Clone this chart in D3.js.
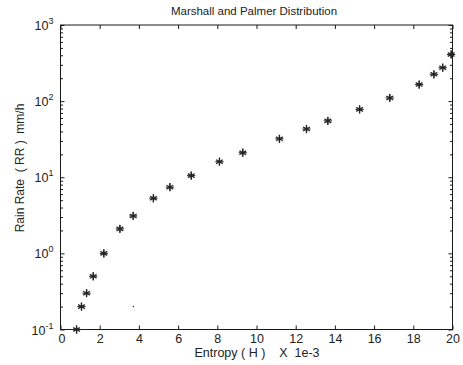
<!DOCTYPE html>
<html><head><meta charset="utf-8">
<script src="https://cdn.jsdelivr.net/npm/d3@7"></script>
<style>body{margin:0;background:#fff}svg{display:block}text{font-family:"Liberation Sans",Arial,sans-serif;fill:#222}</style>
</head><body>
<script>
const title = "Marshall and Palmer Distribution";
const xLabel = "Entropy ( H )    X  1e-3";
const yLabel = "Rain Rate  ( RR )  mm/h";
const entropy = [0.82, 1.07, 1.33, 1.67, 2.21, 3.03, 3.71, 4.74, 5.58, 6.67, 8.11, 9.3, 11.17, 12.55, 13.64, 15.26, 16.8, 18.3, 19.05, 19.5, 19.93];
const rainRate = [0.1, 0.2, 0.3, 0.5, 1.0, 2.1, 3.1, 5.3, 7.4, 10.5, 16, 21, 32, 43, 55, 78, 110, 165, 225, 275, 410];
const strayX = [3.72];
const strayY = [0.2];
const xTicks = [0, 2, 4, 6, 8, 10, 12, 14, 16, 18, 20];
const yExponents = [-1, 0, 1, 2, 3];

const W = 463, H = 365;
const m = {left: 60.5, right: 452.5, top: 25, bottom: 329.5};
const svg = d3.select("body").append("svg").attr("width", W).attr("height", H);

const x = d3.scaleLinear().domain([0, 20]).range([m.left, m.right]);
const y = d3.scaleLog().domain([0.1, 1000]).range([m.bottom, m.top]);

const ink = "#1a1a1a";
svg.append("rect").attr("x", m.left).attr("y", m.top).attr("width", m.right - m.left).attr("height", m.bottom - m.top)
  .attr("fill", "none").attr("stroke", ink).attr("stroke-width", 1);

const xb = svg.append("g").attr("transform", `translate(0,${m.bottom})`)
  .call(d3.axisBottom(x).tickValues(xTicks).tickSize(-4).tickPadding(5).tickFormat(d3.format("d")));
const xt = svg.append("g").attr("transform", `translate(0,${m.top})`)
  .call(d3.axisTop(x).tickValues(xTicks).tickSize(-4).tickFormat(""));
[xb, xt].forEach(g => { g.select(".domain").remove(); g.selectAll("line").attr("stroke", ink); });
xb.selectAll("text").attr("font-size", 12.5).attr("fill", "#222");
xb.selectAll(".tick").filter(d => d === 0).select("text").attr("dx", 1);

const minors = [];
for (let e = -1; e < 3; e++) for (let k = 2; k <= 9; k++) minors.push(k * Math.pow(10, e));
const majors = yExponents.map(e => Math.pow(10, e));
const yl = svg.append("g").attr("transform", `translate(${m.left},0)`)
  .call(d3.axisLeft(y).tickValues(majors).tickSize(-4).tickFormat(""));
const ylm = svg.append("g").attr("transform", `translate(${m.left},0)`)
  .call(d3.axisLeft(y).tickValues(minors).tickSize(-2.5).tickFormat(""));
const yr = svg.append("g").attr("transform", `translate(${m.right},0)`)
  .call(d3.axisRight(y).tickValues(majors).tickSize(-4).tickFormat(""));
const yrm = svg.append("g").attr("transform", `translate(${m.right},0)`)
  .call(d3.axisRight(y).tickValues(minors).tickSize(-2.5).tickFormat(""));
[yl, ylm, yr, yrm].forEach(g => { g.select(".domain").remove(); g.selectAll("line").attr("stroke", ink); });

const lab = svg.append("g");
yExponents.forEach(e => {
  const t = lab.append("text").attr("x", m.left - 7).attr("y", y(Math.pow(10, e)) + 5)
    .attr("text-anchor", "end").attr("font-size", 12.5);
  t.append("tspan").text("10");
  t.append("tspan").attr("dy", -6).attr("font-size", 9).text(e);
});

const star = d3.symbol().type(d3.symbolAsterisk).size(42);
const plus = d3.symbol().type(d3.symbolPlus).size(24);
const pts = svg.append("g");
entropy.forEach((v, i) => {
  const g = pts.append("g").attr("transform", `translate(${x(v)},${y(rainRate[i])})`);
  g.append("path").attr("d", star()).attr("fill", "none").attr("stroke", "#2a2a2a").attr("stroke-width", 1.4);
  g.append("path").attr("d", plus()).attr("fill", "none").attr("stroke", "#222").attr("stroke-width", 1);
});
strayX.forEach((v, i) => {
  pts.append("circle").attr("cx", x(v)).attr("cy", y(strayY[i])).attr("r", 0.8).attr("fill", "#444");
});

svg.append("text").attr("x", 254).attr("y", 15).attr("text-anchor", "middle").attr("font-size", 11.5).text(title);
svg.append("text").attr("x", 257).attr("y", 357).attr("text-anchor", "middle").attr("font-size", 12.5)
  .style("white-space", "pre").text(xLabel);
svg.append("text").attr("transform", "translate(24,168) rotate(-90)").attr("text-anchor", "middle").attr("font-size", 12)
  .style("white-space", "pre").text(yLabel);
</script>
</body></html>
